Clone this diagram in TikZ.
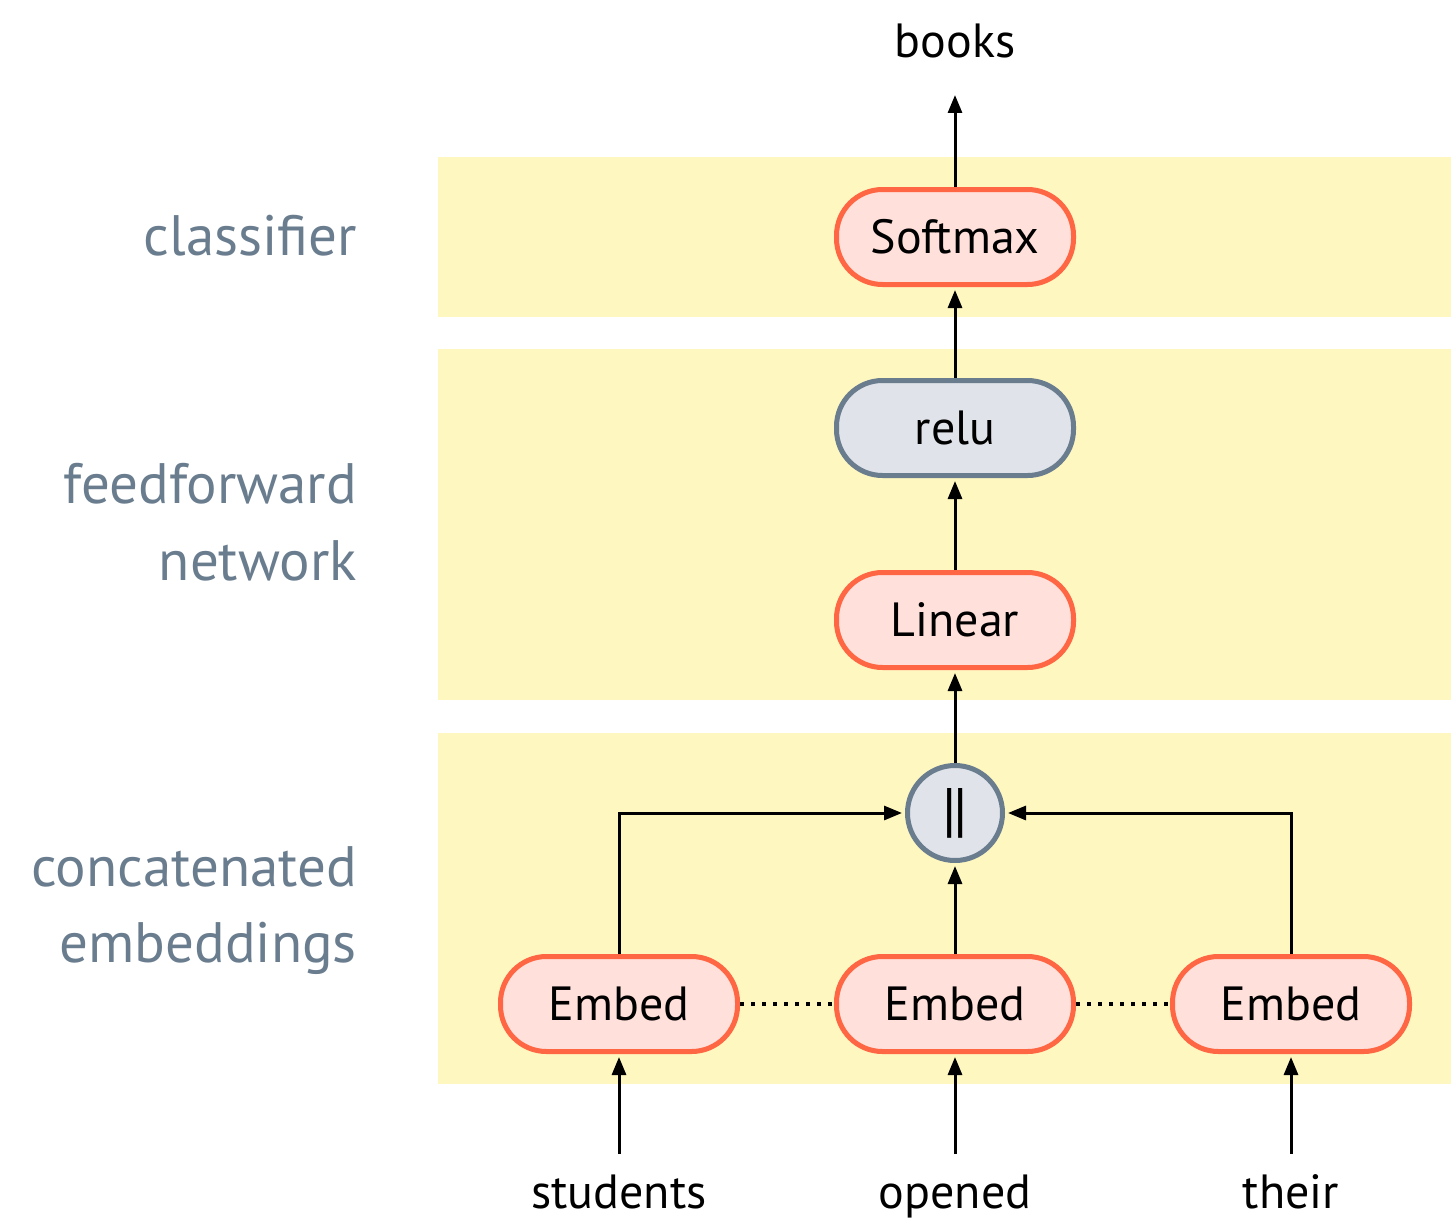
\documentclass[tikz,border=0pt]{standalone}
\usepackage{fontspec}
\setmainfont{PT Sans}
\usetikzlibrary{arrows.meta}
\definecolor{band}{HTML}{FEF7C0}
\definecolor{orng}{HTML}{FF6643}
\definecolor{pnk}{HTML}{FFE0DA}
\definecolor{slate}{HTML}{6A7D8F}
\definecolor{lgray}{HTML}{E0E3E9}
\tikzset{
  pill/.style={draw=orng, fill=pnk, line width=5pt, rounded corners=46pt,
    minimum width=237pt, minimum height=95pt, inner sep=0pt,
    font=\fontsize{48}{56}\selectfont},
  graypill/.style={pill, draw=slate, fill=lgray},
  catnode/.style={circle, draw=slate, fill=lgray, line width=5pt, minimum size=95pt, inner sep=0pt,
    font=\fontsize{60}{60}\selectfont},
  arr/.style={line width=3pt, -{Triangle[length=18pt,width=14pt]}, shorten >=3pt},
  word/.style={inner sep=0pt, anchor=base, font=\fontsize{48}{56}\selectfont},
  sidelabel/.style={inner sep=0pt, anchor=base east, align=right, text=slate,
    font=\fontsize{57}{77}\selectfont},
  dots/.style={line width=3.5pt, dash pattern=on 3.5pt off 7.5pt},
}
\begin{document}
\begin{tikzpicture}[x=1pt,y=-1pt]
\useasboundingbox (0,0) rectangle (1451,1220);
% bands
\fill[band] (438,157) rectangle (1451,317);
\fill[band] (438,349) rectangle (1451,700);
\fill[band] (438,733) rectangle (1451,1084);
% side labels
\node[sidelabel] (lc) at (357,255) {classifier};
\node[sidelabel] (lf) at (357,503) {feedforward};
\node[sidelabel] (ln) at (357,580) {network};
\node[sidelabel] (lce) at (357,886) {concatenated};
\node[sidelabel] (lem) at (357,962) {embeddings};
% nodes
\node[pill] (sm) at (955,237) {Softmax};
\node[graypill] (relu) at (955,428) {relu};
\node[pill] (lin) at (955,620) {Linear};
\node[catnode] (cat) at (955,813) {|\kern-3pt|};
\node[pill] (e1) at (619,1004) {Embed};
\node[pill] (e2) at (955,1004) {Embed};
\node[pill] (e3) at (1291,1004) {Embed};
% words
\node[word] (books) at (955,58) {books};
\coordinate (btip) at (955,95);
\node[word] (w1) at (619,1208) {students};
\node[word] (w2) at (955,1208) {opened};
\node[word] (w3) at (1291,1208) {their};
% connectors
\draw[arr, shorten >=0pt] (sm.north) -- (btip);
\draw[arr] (relu) -- (sm);
\draw[arr] (lin) -- (relu);
\draw[arr] (cat) -- (lin);
\draw[arr] (e2) -- (cat);
\draw[arr] (e1.north) |- (cat.west);
\draw[arr] (e3.north) |- (cat.east);
\draw[arr, shorten <=20pt] (w1.north) -- (e1.south);
\draw[arr, shorten <=20pt] (w2.north) -- (e2.south);
\draw[arr, shorten <=20pt] (w3.north) -- (e3.south);
\draw[dots] (e1.east) -- (e2.west);
\draw[dots] (e2.east) -- (e3.west);
\end{tikzpicture}
\end{document}
